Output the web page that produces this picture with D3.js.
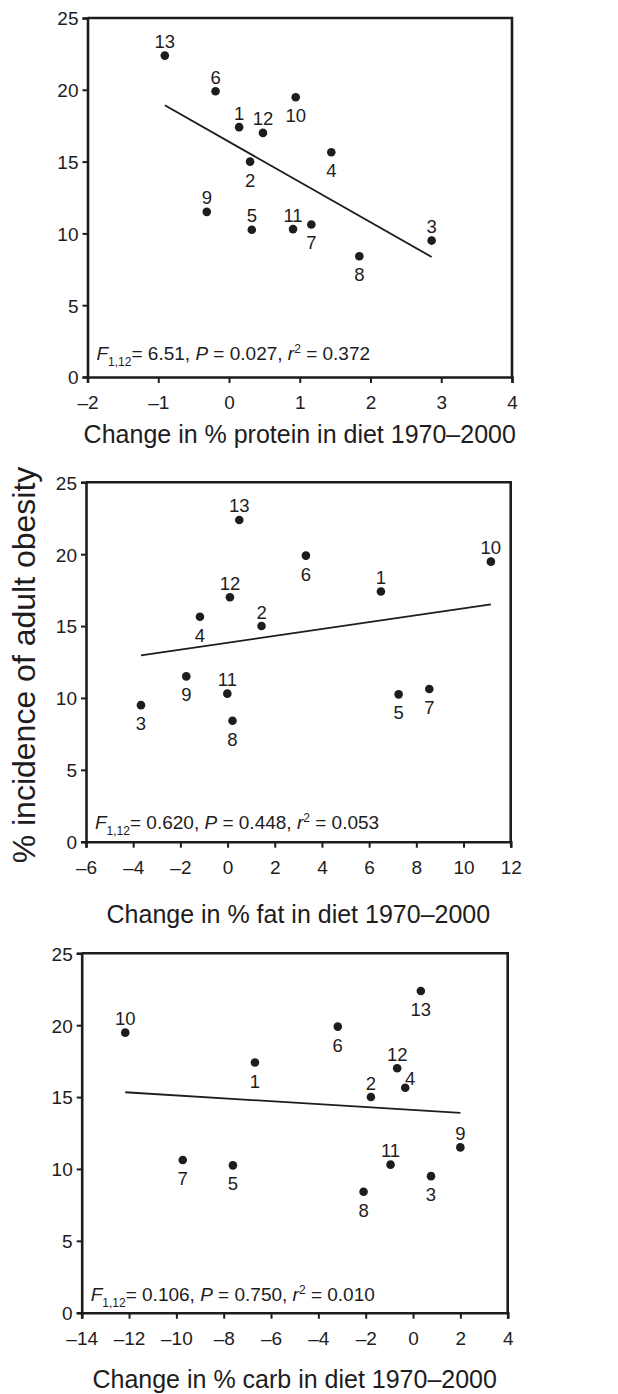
<!DOCTYPE html>
<html>
<head>
<meta charset="utf-8">
<script src="https://cdn.jsdelivr.net/npm/d3@7"></script>
<style>
  body { margin: 0; background: #fff; }
  svg { display: block; font-family: "Liberation Sans", Arial, sans-serif; }
</style>
</head>
<body>
<svg id="drawing_region"></svg>
<script>
// country ids 1..13
const countries = [1, 2, 3, 4, 5, 6, 7, 8, 9, 10, 11, 12, 13];
// % incidence of adult obesity
const obesity = [17.4, 15.0, 9.5, 15.65, 10.25, 19.9, 10.62, 8.41, 11.5, 19.48, 10.3, 17.0, 22.38];
// change in % of diet 1970-2000
const protein = [0.143, 0.298, 2.864, 1.446, 0.322, -0.19, 1.164, 1.842, -0.314, 0.943, 0.905, 0.48, -0.907];
const fat     = [6.5, 1.44, -3.67, -1.17, 7.25, 3.32, 8.55, 0.21, -1.75, 11.16, -0.01, 0.1, 0.496];
const carb    = [-6.68, -1.78, 0.76, -0.33, -7.61, -3.18, -9.73, -2.09, 2.0, -12.16, -0.95, -0.67, 0.33];

// fitted regression lines (intercept, slope)
const fitIntercept = [16.38, 13.84, 14.10];
const fitSlope     = [-2.80, 0.239, -0.1015];

// stats text per panel
const statF  = ['6.51', '0.620', '0.106'];
const statP  = ['0.027', '0.448', '0.750'];
const statR2 = ['0.372', '0.053', '0.010'];

const xTitles = [
    'Change in % protein in diet 1970\u20132000',
    'Change in % fat in diet 1970\u20132000',
    'Change in % carb in diet 1970\u20132000'
];
const xDomains = [[-2, 4], [-6, 12], [-14, 4]];
const xTickValues = [
    [-2, -1, 0, 1, 2, 3, 4],
    [-6, -4, -2, 0, 2, 4, 6, 8, 10, 12],
    [-14, -12, -10, -8, -6, -4, -2, 0, 2, 4]
];
const yTickValues = [0, 5, 10, 15, 20, 25];

// where each point's number sits: a = above, b = below, r = above right
const labelPos = [
    ['a','b','a','b','a','a','b','b','a','b','a','a','a'],
    ['a','a','b','b','b','b','b','b','b','a','a','a','a'],
    ['b','a','b','r','b','b','b','b','a','a','a','a','b']
];

const ink = '#1e1c1d';

const svg = d3.select('#drawing_region')
    .attr('width', 618)
    .attr('height', 1394);

svg.append('rect').attr('width', 618).attr('height', 1394).attr('fill', '#fff');

// box of each panel
const boxes = [
    { left: 87.5, right: 512, top: 18, bottom: 377, statDy: 17, titleDy: 66 },
    { left: 86, right: 510.7, top: 482.3, bottom: 841.7, statDy: 13, titleDy: 81 },
    { left: 81.7, right: 507.7, top: 953.3, bottom: 1312.7, statDy: 12, titleDy: 75.5 }
];

const fmt = d => d < 0 ? '\u2013' + Math.abs(d) : String(d);

[protein, fat, carb].forEach((xs, i) => {
    const b = boxes[i];
    const g = svg.append('g');

    const xscale = d3.scaleLinear().domain(xDomains[i]).range([b.left, b.right]);
    const yscale = d3.scaleLinear().domain([0, 25]).range([b.bottom, b.top]);

    // top and right of frame
    g.append('path')
        .attr('d', `M${b.left},${b.top}H${b.right}V${b.bottom}`)
        .attr('fill', 'none')
        .attr('stroke', ink)
        .attr('stroke-width', 2.6);

    const xaxis = d3.axisBottom(xscale)
        .tickValues(xTickValues[i])
        .tickFormat(fmt)
        .tickSizeOuter(0)
        .tickSize(6)
        .tickPadding(13);
    const yaxis = d3.axisLeft(yscale)
        .tickValues(yTickValues)
        .tickSizeOuter(0)
        .tickSize(5)
        .tickPadding(4);

    const xg = g.append('g')
        .attr('transform', `translate(0,${b.bottom})`)
        .call(xaxis);
    const yg = g.append('g')
        .attr('transform', `translate(${b.left},0)`)
        .call(yaxis);

    [xg, yg].forEach(ag => {
        ag.select('.domain').attr('stroke', ink).attr('stroke-width', 2.6);
        ag.selectAll('.tick line').attr('stroke', ink).attr('stroke-width', 2);
        ag.selectAll('.tick text')
            .attr('fill', ink)
            .attr('font-size', 19)
            .attr('font-family', '"Liberation Sans", Arial, sans-serif');
    });
    yg.selectAll('.tick text').attr('dy', '0.36em');

    // regression line
    const x0 = d3.min(xs), x1 = d3.max(xs);
    g.append('line')
        .attr('x1', xscale(x0))
        .attr('y1', yscale(fitIntercept[i] + fitSlope[i] * x0))
        .attr('x2', xscale(x1))
        .attr('y2', yscale(fitIntercept[i] + fitSlope[i] * x1))
        .attr('stroke', ink)
        .attr('stroke-width', 1.8);

    // points
    g.append('g').selectAll('circle')
        .data(countries)
        .join('circle')
        .attr('cx', (d, k) => xscale(xs[k]))
        .attr('cy', (d, k) => yscale(obesity[k]))
        .attr('r', 4.3)
        .attr('fill', ink);

    // point numbers
    g.append('g').selectAll('text')
        .data(countries)
        .join('text')
        .attr('x', (d, k) => xscale(xs[k]) + (labelPos[i][k] === 'r' ? 5 : 0))
        .attr('y', (d, k) => {
            const p = labelPos[i][k];
            const cy = yscale(obesity[k]);
            if (p === 'a') return cy - 7.5;
            if (p === 'r') return cy - 3;
            return cy + 25;
        })
        .attr('text-anchor', 'middle')
        .attr('font-size', 18.5)
        .attr('fill', ink)
        .text(d => d);

    // stats
    const st = g.append('text')
        .attr('x', b.left + 9)
        .attr('y', b.bottom - b.statDy)
        .attr('font-size', 19)
        .attr('fill', ink);
    st.append('tspan').attr('font-style', 'italic').text('F');
    st.append('tspan').attr('font-size', 12).attr('dy', 6).text('1,12');
    st.append('tspan').attr('dy', -6).text(`= ${statF[i]}, `);
    st.append('tspan').attr('font-style', 'italic').text('P');
    st.append('tspan').text(` = ${statP[i]}, `);
    st.append('tspan').attr('font-style', 'italic').text('r');
    st.append('tspan').attr('font-size', 12).attr('dy', -7).text('2');
    st.append('tspan').attr('dy', 7).text(` = ${statR2[i]}`);

    // x title
    g.append('text')
        .attr('x', (b.left + b.right) / 2)
        .attr('y', b.bottom + b.titleDy)
        .attr('text-anchor', 'middle')
        .attr('font-size', 25)
        .attr('fill', ink)
        .text(xTitles[i]);
});

// shared y title
svg.append('text')
    .attr('transform', 'translate(35,665) rotate(-90)')
    .attr('text-anchor', 'middle')
    .attr('font-size', 32)
    .attr('fill', ink)
    .text('% incidence of adult obesity');
</script>
</body>
</html>
